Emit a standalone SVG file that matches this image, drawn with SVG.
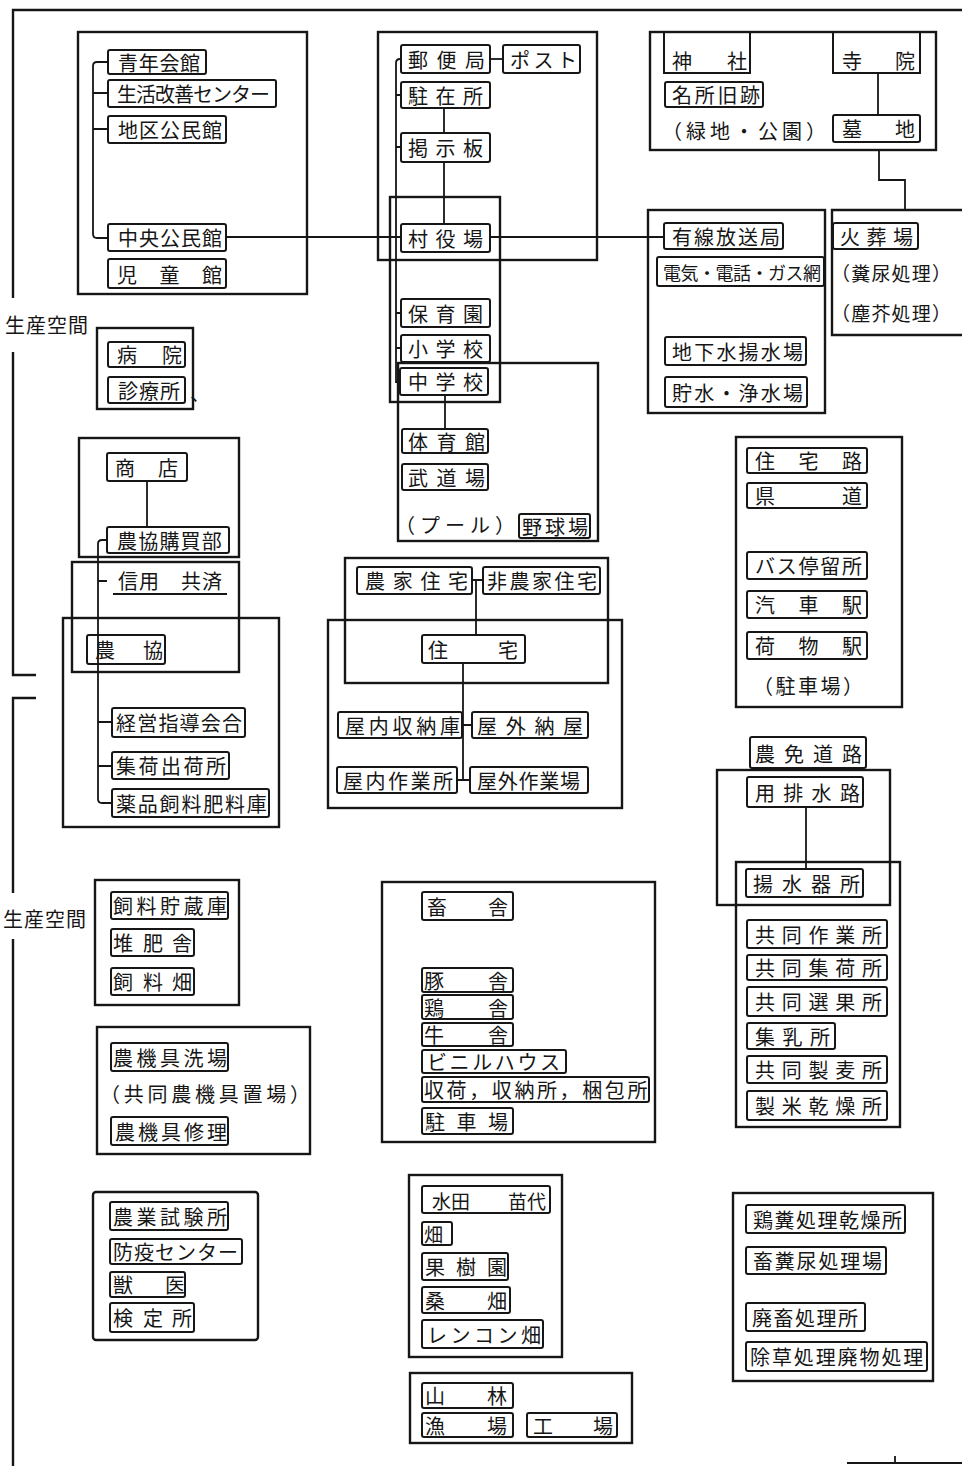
<svg xmlns="http://www.w3.org/2000/svg" width="962" height="1466" viewBox="0 0 962 1466">
<style>
.g{fill:none;stroke:#161616;stroke-width:2.4}
.b{fill:none;stroke:#161616;stroke-width:2}
.c{fill:none;stroke:#161616;stroke-width:1.8}
text{font-family:"Noto Sans CJK JP","Noto Sans CJK SC",sans-serif;font-size:20px;fill:#161616;dominant-baseline:central}
</style>
<rect width="962" height="1466" fill="#fff"/>
<g id="frame">
<path class="g" d="M13,298 V10 H962"/>
<path class="g" d="M13,352 V675 H36"/>
<path class="g" d="M36,698 H13 V893"/>
<path class="g" d="M13,939 V1466"/>
<path class="c" d="M847,1463 H962 M895,1463 V1456"/>
<text x="5" y="324" letter-spacing="1">生産空間</text>
<text x="3" y="918" letter-spacing="1">生産空間</text>
</g>
<g id="community">
<rect class="g" x="78" y="32" width="229" height="262"/>
<rect class="b" x="108" y="50" width="98" height="24" rx="2"/>
<text x="118" y="62" letter-spacing="0.7">青年会館</text>
<rect class="b" x="108" y="80" width="168" height="27" rx="2"/>
<text x="117" y="93.5" letter-spacing="-1">生活改善センター</text>
<rect class="b" x="108" y="116" width="118" height="27" rx="2"/>
<text x="118" y="129.5" letter-spacing="1">地区公民館</text>
<rect class="b" x="108" y="224" width="118" height="27" rx="2"/>
<text x="118" y="237.5" letter-spacing="1">中央公民館</text>
<rect class="b" x="108" y="259" width="118" height="29" rx="2"/>
<text x="117 159.5 202" y="274">児童館</text>
</g>
<g id="medical">
<rect class="g" x="97" y="328" width="96" height="81"/>
<rect class="b" x="108" y="342" width="77" height="25" rx="2"/>
<text x="117 162" y="354.5">病院</text>
<rect class="b" x="108" y="377" width="77" height="26" rx="2"/>
<text x="118" y="390" letter-spacing="1">診療所</text>
<text x="190" y="392">、</text>
</g>
<g id="shop">
<rect class="g" x="79" y="438" width="160" height="119"/>
<rect class="b" x="107" y="453" width="80" height="28" rx="2"/>
<text x="115 158" y="467">商店</text>
<rect class="b" x="107" y="527" width="122" height="26" rx="2"/>
<text x="117" y="540" letter-spacing="1.2">農協購買部</text>
</g>
<g id="credit">
<rect class="g" x="72" y="562" width="167" height="110"/>
<text x="118" y="580" letter-spacing="1">信用　共済</text>
<line class="c" x1="113" y1="594" x2="227" y2="594"/>
<rect class="b" x="87" y="635" width="78" height="29" rx="2"/>
<text x="95 143" y="649.5">農協</text>
</g>
<g id="coop">
<rect class="g" x="63" y="618" width="216" height="209"/>
<rect class="b" x="112" y="708" width="133" height="29" rx="2"/>
<text x="116" y="722.5" letter-spacing="1.2">経営指導会合</text>
<rect class="b" x="112" y="752" width="117" height="27" rx="2"/>
<text x="116" y="765.5" letter-spacing="2.5">集荷出荷所</text>
<rect class="b" x="112" y="789" width="157" height="28" rx="2"/>
<text x="116" y="803" letter-spacing="1.8">薬品飼料肥料庫</text>
</g>
<g id="admin">
<rect class="g" x="378" y="32" width="219" height="228"/>
<rect class="b" x="401" y="45" width="89" height="28" rx="2"/>
<text x="408" y="59" letter-spacing="8.5">郵便局</text>
<rect class="b" x="503" y="45" width="77" height="28" rx="2"/>
<text x="510" y="59" letter-spacing="3.5">ポスト</text>
<rect class="b" x="401" y="82" width="89" height="26" rx="2"/>
<text x="408" y="95" letter-spacing="7.5">駐在所</text>
<rect class="b" x="401" y="133" width="89" height="29" rx="2"/>
<text x="408" y="147.5" letter-spacing="7.5">掲示板</text>
<rect class="b" x="401" y="224" width="89" height="28" rx="2"/>
<text x="408" y="238" letter-spacing="7.5">村役場</text>
</g>
<g id="schools">
<rect class="g" x="390" y="197" width="110" height="205"/>
<rect class="b" x="401" y="299" width="89" height="28" rx="2"/>
<text x="408" y="313" letter-spacing="7.5">保育園</text>
<rect class="b" x="401" y="335" width="89" height="27" rx="2"/>
<text x="408" y="348.5" letter-spacing="7.5">小学校</text>
<rect class="b" x="400" y="368" width="88" height="27" rx="2"/>
<text x="408" y="381.5" letter-spacing="7.5">中学校</text>
</g>
<g id="sports">
<rect class="g" x="398" y="363" width="200" height="178"/>
<rect class="b" x="402" y="429" width="86" height="24" rx="2"/>
<text x="408" y="441" letter-spacing="8.5">体育館</text>
<rect class="b" x="402" y="464" width="86" height="26" rx="2"/>
<text x="408" y="477" letter-spacing="8.5">武道場</text>
<text x="395" y="524" letter-spacing="5">（プール）</text>
<rect class="b" x="519" y="514" width="71" height="24" rx="2"/>
<text x="522" y="526" letter-spacing="3">野球場</text>
</g>
<g id="shrine">
<rect class="g" x="650" y="32" width="286" height="118"/>
<rect class="b" x="664" y="32" width="86" height="41"/>
<text x="672 727" y="60">神社</text>
<rect class="b" x="833" y="32" width="87" height="41"/>
<text x="842 895" y="60">寺院</text>
<rect class="b" x="665" y="82" width="98" height="25" rx="2"/>
<text x="672" y="94.5" letter-spacing="2.7">名所旧跡</text>
<text x="662" y="130" letter-spacing="4">（緑地・公園）</text>
<rect class="b" x="833" y="115" width="87" height="27" rx="2"/>
<text x="842 895" y="128.5">墓地</text>
</g>
<g id="utilities">
<rect class="g" x="648" y="210" width="177" height="203"/>
<rect class="b" x="664" y="223" width="119" height="26" rx="2"/>
<text x="672" y="236" letter-spacing="2">有線放送局</text>
<rect class="b" x="657" y="257" width="167" height="29" rx="2"/>
<text x="663" y="271.5" style="font-size:18px" letter-spacing="-0.5">電気・電話・ガス網</text>
<rect class="b" x="665" y="337" width="141" height="28" rx="2"/>
<text x="672" y="351" letter-spacing="2.2">地下水揚水場</text>
<rect class="b" x="665" y="377" width="142" height="30" rx="2"/>
<text x="672" y="392" letter-spacing="2.2">貯水・浄水場</text>
</g>
<g id="crematorium">
<path class="g" d="M962,210 H832 V335 H962"/>
<rect class="b" x="833" y="223" width="85" height="26" rx="2"/>
<text x="840" y="236" letter-spacing="6.5">火葬場</text>
<text x="831" y="272" style="font-size:19px" letter-spacing="1.2">（糞尿処理）</text>
<text x="831" y="312" style="font-size:19px" letter-spacing="1.2">（塵芥処理）</text>
</g>
<g id="roads">
<rect class="g" x="736" y="437" width="166" height="270"/>
<rect class="b" x="747" y="448" width="120" height="25" rx="2"/>
<text x="755 798.5 842" y="460.5">住宅路</text>
<rect class="b" x="747" y="483" width="120" height="25" rx="2"/>
<text x="755 842" y="495.5">県道</text>
<rect class="b" x="747" y="552" width="120" height="27" rx="2"/>
<text x="755" y="565.5" letter-spacing="1.75">バス停留所</text>
<rect class="b" x="747" y="591" width="120" height="27" rx="2"/>
<text x="755 798.5 842" y="604.5">汽車駅</text>
<rect class="b" x="747" y="632" width="120" height="27" rx="2"/>
<text x="755 798.5 842" y="645.5">荷物駅</text>
<text x="753" y="685" letter-spacing="2.5">（駐車場）</text>
</g>
<g id="farmroad">
<rect class="b" x="750" y="737" width="116" height="31" rx="2"/>
<text x="755" y="753" letter-spacing="9">農免道路</text>
</g>
<g id="water">
<rect class="g" x="717" y="770" width="173" height="135"/>
<rect class="b" x="747" y="777" width="116" height="30" rx="2"/>
<text x="755" y="792" letter-spacing="8.3">用排水路</text>
</g>
<g id="joint">
<rect class="g" x="736" y="862" width="164" height="265"/>
<rect class="b" x="746" y="869" width="117" height="28" rx="2"/>
<text x="753" y="883" letter-spacing="9">揚水器所</text>
<rect class="b" x="747" y="920" width="140" height="28" rx="2"/>
<text x="755" y="934" letter-spacing="6.75">共同作業所</text>
<rect class="b" x="747" y="955" width="140" height="25" rx="2"/>
<text x="755" y="967.5" letter-spacing="6.75">共同集荷所</text>
<rect class="b" x="747" y="987" width="140" height="29" rx="2"/>
<text x="755" y="1001.5" letter-spacing="6.75">共同選果所</text>
<rect class="b" x="747" y="1023" width="88" height="26" rx="2"/>
<text x="755" y="1036" letter-spacing="7.5">集乳所</text>
<rect class="b" x="747" y="1056" width="140" height="27" rx="2"/>
<text x="755" y="1069.5" letter-spacing="6.75">共同製麦所</text>
<rect class="b" x="747" y="1091" width="140" height="29" rx="2"/>
<text x="755" y="1105.5" letter-spacing="6.75">製米乾燥所</text>
</g>
<g id="waste">
<rect class="g" x="733" y="1193" width="200" height="188"/>
<rect class="b" x="746" y="1205" width="159" height="28" rx="2"/>
<text x="753" y="1219" letter-spacing="1.5">鶏糞処理乾燥所</text>
<rect class="b" x="746" y="1247" width="140" height="27" rx="2"/>
<text x="753" y="1260.5" letter-spacing="1.8">畜糞尿処理場</text>
<rect class="b" x="746" y="1303" width="119" height="28" rx="2"/>
<text x="752" y="1317" letter-spacing="1.5">廃畜処理所</text>
<rect class="b" x="746" y="1342" width="181" height="29" rx="2"/>
<text x="750" y="1356.5" letter-spacing="1.9">除草処理廃物処理</text>
</g>
<g id="housing">
<rect class="g" x="345" y="558" width="263" height="125"/>
<rect class="g" x="328" y="620" width="294" height="188"/>
<rect class="b" x="357" y="567" width="115" height="27" rx="2"/>
<text x="365" y="580.5" letter-spacing="7.7">農家住宅</text>
<rect class="b" x="483" y="567" width="117" height="27" rx="2"/>
<text x="487" y="580.5" letter-spacing="2.5">非農家住宅</text>
<rect class="b" x="422" y="635" width="103" height="28" rx="2"/>
<text x="428 498" y="649">住宅</text>
<rect class="b" x="338" y="712" width="124" height="26" rx="2"/>
<text x="345" y="725" letter-spacing="3.75">屋内収納庫</text>
<rect class="b" x="472" y="712" width="116" height="26" rx="2"/>
<text x="477" y="725" letter-spacing="8.7">屋外納屋</text>
<rect class="b" x="337" y="767" width="120" height="26" rx="2"/>
<text x="343" y="780" letter-spacing="2.5">屋内作業所</text>
<rect class="b" x="470" y="767" width="118" height="26" rx="2"/>
<text x="477" y="780" letter-spacing="0.75">屋外作業場</text>
</g>
<g id="livestock">
<rect class="g" x="382" y="882" width="273" height="260"/>
<rect class="b" x="422" y="892" width="91" height="28" rx="2"/>
<text x="427 488" y="906">畜舎</text>
<rect class="b" x="422" y="968" width="91" height="24" rx="2"/>
<text x="424 488" y="980">豚舎</text>
<rect class="b" x="422" y="995" width="91" height="24" rx="2"/>
<text x="424 488" y="1007">鶏舎</text>
<rect class="b" x="422" y="1023" width="91" height="23" rx="2"/>
<text x="424 488" y="1034.5">牛舎</text>
<rect class="b" x="422" y="1050" width="144" height="23" rx="2"/>
<text x="427" y="1061.5" letter-spacing="2.6">ビニルハウス</text>
<rect class="b" x="422" y="1077" width="227" height="25" rx="2"/>
<text x="424" y="1089.5" letter-spacing="2.6">収荷，収納所，梱包所</text>
<rect class="b" x="422" y="1108" width="91" height="26" rx="2"/>
<text x="425 456.5 488" y="1121">駐車場</text>
</g>
<g id="fields">
<rect class="g" x="409" y="1175" width="153" height="182"/>
<rect class="b" x="422" y="1186" width="128" height="27" rx="2"/>
<text y="1199.5" style="font-size:19px"><tspan x="432">水田</tspan><tspan x="508">苗代</tspan></text>
<rect class="b" x="422" y="1222" width="30" height="23" rx="2"/>
<text x="424" y="1233.5" style="font-size:19px">畑</text>
<rect class="b" x="422" y="1253" width="86" height="27" rx="2"/>
<text x="425 456 487" y="1266.5">果樹園</text>
<rect class="b" x="422" y="1287" width="88" height="26" rx="2"/>
<text x="425 487" y="1300">桑畑</text>
<rect class="b" x="422" y="1320" width="121" height="28" rx="2"/>
<text x="427" y="1334" letter-spacing="3.5">レンコン畑</text>
</g>
<g id="forest">
<rect class="g" x="410" y="1373" width="222" height="70"/>
<rect class="b" x="422" y="1383" width="91" height="25" rx="2"/>
<text x="425 487" y="1395.5">山林</text>
<rect class="b" x="422" y="1413" width="91" height="24" rx="2"/>
<text x="425 487" y="1425">漁場</text>
<rect class="b" x="527" y="1413" width="90" height="24" rx="2"/>
<text x="533 593" y="1425">工場</text>
</g>
<g id="feed">
<rect class="g" x="95" y="880" width="144" height="125"/>
<rect class="b" x="111" y="892" width="117" height="27" rx="2"/>
<text x="113" y="905.5" letter-spacing="3.5">飼料貯蔵庫</text>
<rect class="b" x="111" y="929" width="83" height="27" rx="2"/>
<text x="113 143 172" y="942.5">堆肥舎</text>
<rect class="b" x="111" y="968" width="83" height="27" rx="2"/>
<text x="113 143 172" y="981.5">飼料畑</text>
</g>
<g id="machinery">
<rect class="g" x="97" y="1027" width="213" height="127"/>
<rect class="b" x="111" y="1043" width="117" height="28" rx="2"/>
<text x="113" y="1057" letter-spacing="3.5">農機具洗場</text>
<text x="100" y="1093" letter-spacing="3.75">（共同農機具置場）</text>
<rect class="b" x="111" y="1117" width="117" height="28" rx="2"/>
<text x="115" y="1131" letter-spacing="3">農機具修理</text>
</g>
<g id="research">
<rect class="g" x="93" y="1192" width="165" height="148" rx="3"/>
<rect class="b" x="110" y="1202" width="118" height="28" rx="2"/>
<text x="113" y="1216" letter-spacing="3.5">農業試験所</text>
<rect class="b" x="110" y="1239" width="132" height="25" rx="2"/>
<text x="113" y="1251.5" letter-spacing="1">防疫センター</text>
<rect class="b" x="110" y="1272" width="75" height="25" rx="2"/>
<text x="113 165" y="1284.5">獣医</text>
<rect class="b" x="110" y="1303" width="84" height="29" rx="2"/>
<text x="113 143 172" y="1317.5">検定所</text>
</g>
<g id="connectors">
<path class="c" d="M108,62 H97 Q93,62 93,66 V234 Q93,238 97,238 H108 M93,93 H108 M93,129 H108"/>
<path class="c" d="M226,237 H401 M490,237 H664"/>
<path class="c" d="M490,59 H503"/>
<path class="c" d="M444,108 V133 M444,162 V224"/>
<path class="c" d="M401,59 H400 Q396,59 396,63 V382 H400 M396,95 H401 M396,147 H401 M396,313 H401 M396,348 H401"/>
<path class="c" d="M445,395 V429"/>
<path class="c" d="M878,73 V115"/>
<path class="c" d="M879,150 V180 H905 V210"/>
<path class="c" d="M147,481 V527"/>
<path class="c" d="M107,540 H102 Q98,540 98,544 V799 Q98,803 102,803 H112 M98,581 H107 M98,722 H112 M98,766 H112"/>
<path class="c" d="M472,580 H483 M476,580 V635"/>
<path class="c" d="M463,663 V780 M462,725 H472 M457,780 H470"/>
<path class="c" d="M806,807 V869"/>
</g>
</svg>
